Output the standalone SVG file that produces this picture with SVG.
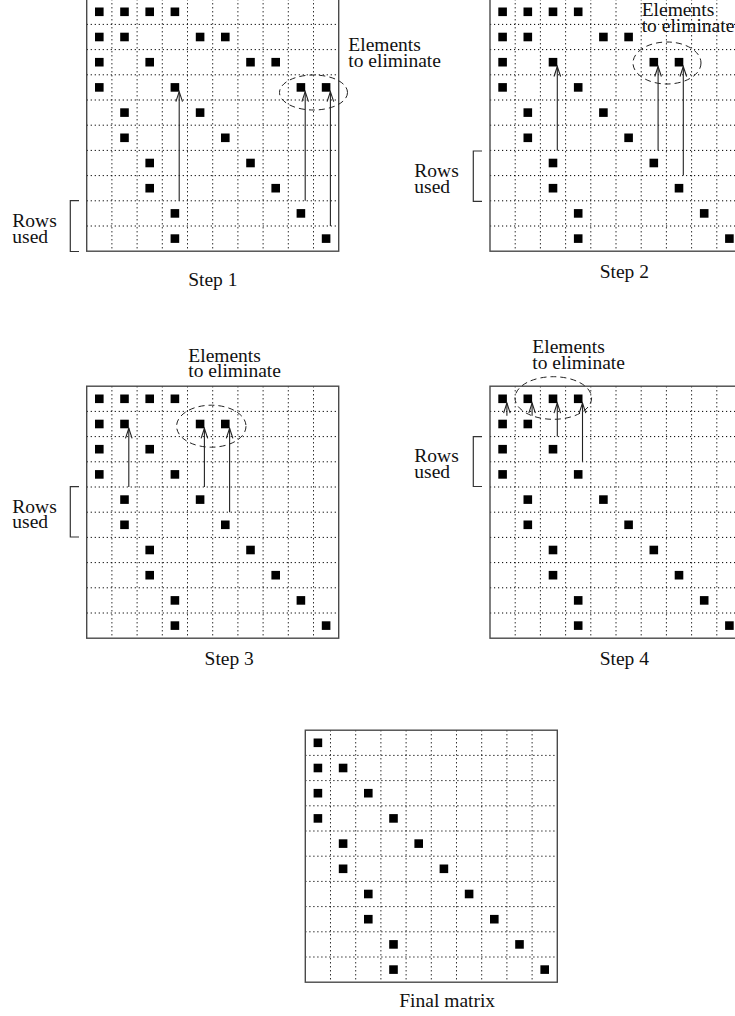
<svg xmlns="http://www.w3.org/2000/svg" xmlns:xlink="http://www.w3.org/1999/xlink" width="735" height="1016" viewBox="0 0 735 1016">
<style>
  .bg{fill:#fff}
  .frame{fill:none;stroke:#4a4a4a;stroke-width:1.4}
  .dot{fill:none;stroke:#000;stroke-width:1;stroke-dasharray:1.2 2.8}
  .sq{fill:#000}
  .ell{fill:none;stroke:#222;stroke-width:1;stroke-dasharray:6 4}
  .br{fill:none;stroke:#333;stroke-width:1.2}
  .arr{fill:none;stroke:#222;stroke-width:1.1;marker-end:url(#ah)}
  text{font-family:"Liberation Serif","Times New Roman",serif;font-size:19.5px;fill:#111}
  .c{text-anchor:middle}
</style>
<defs>
  <marker id="ah" markerUnits="userSpaceOnUse" viewBox="-11 -4 12 8" markerWidth="12" markerHeight="8" refX="0" refY="0" orient="auto" overflow="visible">
    <path d="M-10,-3.3 L0,0 L-10,3.3" fill="none" stroke="#222" stroke-width="1.1"/>
  </marker>
  <g id="grid">
    <rect class="bg" x="0" y="0" width="252" height="252"/>
    <path class="dot" d="M25.2,0V252M50.4,0V252M75.6,0V252M100.8,0V252M126,0V252M151.2,0V252M176.4,0V252M201.6,0V252M226.8,0V252M0,25.2H252M0,50.4H252M0,75.6H252M0,100.8H252M0,126H252M0,151.2H252M0,176.4H252M0,201.6H252M0,226.8H252"/>
    <rect class="frame" x="0" y="0" width="252" height="252"/>
  </g>
  <g id="base">
    <rect class="sq" x="8.3" y="8.3" width="8.6" height="8.6"/>
    <rect class="sq" x="8.3" y="33.5" width="8.6" height="8.6"/>
    <rect class="sq" x="33.5" y="33.5" width="8.6" height="8.6"/>
    <rect class="sq" x="8.3" y="58.7" width="8.6" height="8.6"/>
    <rect class="sq" x="58.7" y="58.7" width="8.6" height="8.6"/>
    <rect class="sq" x="8.3" y="83.9" width="8.6" height="8.6"/>
    <rect class="sq" x="83.9" y="83.9" width="8.6" height="8.6"/>
    <rect class="sq" x="33.5" y="109.1" width="8.6" height="8.6"/>
    <rect class="sq" x="109.1" y="109.1" width="8.6" height="8.6"/>
    <rect class="sq" x="33.5" y="134.3" width="8.6" height="8.6"/>
    <rect class="sq" x="134.3" y="134.3" width="8.6" height="8.6"/>
    <rect class="sq" x="58.7" y="159.5" width="8.6" height="8.6"/>
    <rect class="sq" x="159.5" y="159.5" width="8.6" height="8.6"/>
    <rect class="sq" x="58.7" y="184.7" width="8.6" height="8.6"/>
    <rect class="sq" x="184.7" y="184.7" width="8.6" height="8.6"/>
    <rect class="sq" x="83.9" y="209.9" width="8.6" height="8.6"/>
    <rect class="sq" x="209.9" y="209.9" width="8.6" height="8.6"/>
    <rect class="sq" x="83.9" y="235.1" width="8.6" height="8.6"/>
    <rect class="sq" x="235.1" y="235.1" width="8.6" height="8.6"/>
  </g>
  <g id="r0">
    <rect class="sq" x="33.5" y="8.3" width="8.6" height="8.6"/>
    <rect class="sq" x="58.7" y="8.3" width="8.6" height="8.6"/>
    <rect class="sq" x="83.9" y="8.3" width="8.6" height="8.6"/>
  </g>
  <g id="r1">
    <rect class="sq" x="109.1" y="33.5" width="8.6" height="8.6"/>
    <rect class="sq" x="134.3" y="33.5" width="8.6" height="8.6"/>
  </g>
  <g id="r2">
    <rect class="sq" x="159.5" y="58.7" width="8.6" height="8.6"/>
    <rect class="sq" x="184.7" y="58.7" width="8.6" height="8.6"/>
  </g>
  <g id="r3">
    <rect class="sq" x="209.9" y="83.9" width="8.6" height="8.6"/>
    <rect class="sq" x="235.1" y="83.9" width="8.6" height="8.6"/>
  </g>
</defs>

<rect x="0" y="0" width="735" height="1016" fill="#fff"/>

<g id="step1">
  <g transform="translate(86.7,-0.8)">
    <use xlink:href="#grid"/><use xlink:href="#base"/><use xlink:href="#r0"/><use xlink:href="#r1"/><use xlink:href="#r2"/><use xlink:href="#r3"/>
  </g>
  <ellipse class="ell" cx="313.5" cy="92.5" rx="34" ry="17.5"/>
  <path class="br" d="M79,200.7H70.3V251.5H79"/>
  <text x="12.3" y="227.3">Rows</text>
  <text x="12.3" y="243.3">used</text>
  <text x="348.3" y="50.7">Elements</text>
  <text x="348.3" y="66.7">to eliminate</text>
  <text class="c" x="212.8" y="286">Step 1</text>
</g>

<g id="step2">
  <g transform="translate(490,-0.8)">
    <use xlink:href="#grid"/><use xlink:href="#base"/><use xlink:href="#r0"/><use xlink:href="#r1"/><use xlink:href="#r2"/>
  </g>
  <ellipse class="ell" cx="667" cy="63" rx="34" ry="21"/>
  <path class="br" d="M482,151H473.3V201.3H482"/>
  <text x="414.3" y="176.5">Rows</text>
  <text x="414.3" y="192.5">used</text>
  <text x="641.7" y="16.3">Elements</text>
  <text x="641.7" y="32.3">to eliminate</text>
  <text class="c" x="624.3" y="277.5">Step 2</text>
</g>

<g id="step3">
  <g transform="translate(86.7,386.2)">
    <use xlink:href="#grid"/><use xlink:href="#base"/><use xlink:href="#r0"/><use xlink:href="#r1"/>
  </g>
  <ellipse class="ell" cx="211.3" cy="426.2" rx="34.7" ry="21"/>
  <path class="br" d="M79,486.7H70.3V537H79"/>
  <text x="12.3" y="512.7">Rows</text>
  <text x="12.3" y="528.3">used</text>
  <text x="188.3" y="361.7">Elements</text>
  <text x="188.3" y="377.3">to eliminate</text>
  <text class="c" x="229.2" y="665">Step 3</text>
</g>

<g id="step4">
  <g transform="translate(490,386.2)">
    <use xlink:href="#grid"/><use xlink:href="#base"/><use xlink:href="#r0"/>
  </g>
  <ellipse class="ell" cx="553.3" cy="398" rx="38.3" ry="21.3"/>
  <path class="br" d="M482,436.7H473.3V486.5H482"/>
  <text x="414.3" y="461.7">Rows</text>
  <text x="414.3" y="477.7">used</text>
  <text x="532.3" y="353.3">Elements</text>
  <text x="532.3" y="369.3">to eliminate</text>
  <text class="c" x="624.3" y="665">Step 4</text>
</g>

<g id="final">
  <g transform="translate(305.3,730.2)">
    <use xlink:href="#grid"/><use xlink:href="#base"/>
  </g>
  <text class="c" x="447.2" y="1007">Final matrix</text>
</g>

<g id="connectors">
  <path class="arr" d="M179.2,200.8V91.7"/>
  <path class="arr" d="M305.2,200.8V91.7"/>
  <path class="arr" d="M330.4,226V91.7"/>
  <path class="arr" d="M557.3,150.4V66.5"/>
  <path class="arr" d="M658.1,150.4V66.5"/>
  <path class="arr" d="M683.3,175.6V66.5"/>
  <path class="arr" d="M128.8,487V428.3"/>
  <path class="arr" d="M204.4,487V428.3"/>
  <path class="arr" d="M229.6,512.2V428.3"/>
  <path class="arr" d="M506.9,415.7V403.1"/>
  <path class="arr" d="M532.1,415.7V403.1"/>
  <path class="arr" d="M557.3,436.6V403.1"/>
  <path class="arr" d="M582.5,461.8V403.1"/>
</g>
</svg>
